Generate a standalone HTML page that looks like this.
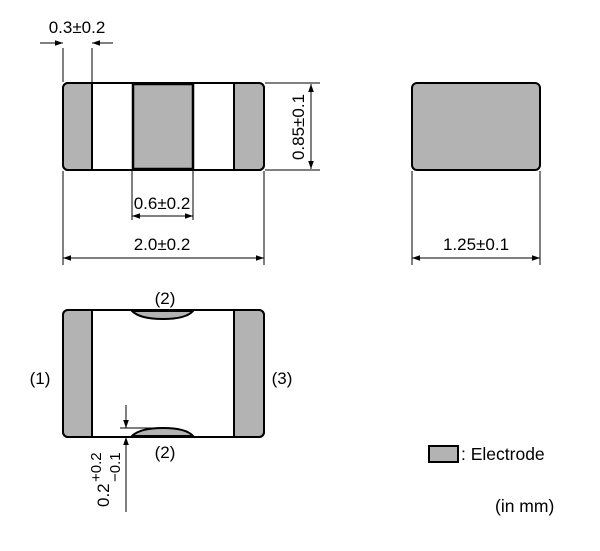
<!DOCTYPE html>
<html><head><style>
html,body{margin:0;padding:0;background:#fff;}
svg text{font-family:"Liberation Sans",Arial,sans-serif;fill:#000;}
</style></head><body>
<svg width="600" height="546" viewBox="0 0 600 546" xmlns="http://www.w3.org/2000/svg">
<defs>
<marker id="a" viewBox="0 0 10 10" refX="10" refY="5" markerWidth="10" markerHeight="8" orient="auto-start-reverse" markerUnits="userSpaceOnUse"><path d="M0,1.5 L10,5 L0,8.5 z" fill="#000"/></marker>
</defs>
<g stroke="#000" fill="none">
<rect x="63" y="83" width="201" height="87" rx="5" fill="#fff" stroke-width="2"/>
<path d="M92,84 H68 Q64,84 64,88 V165 Q64,169 68,169 H92 Z" fill="#b3b3b3" stroke="none"/>
<path d="M234,84 H259 Q263,84 263,88 V165 Q263,169 259,169 H234 Z" fill="#b3b3b3" stroke="none"/>
<rect x="133" y="84" width="60" height="85" fill="#b3b3b3" stroke-width="2.5"/>
<line x1="92" y1="83" x2="92" y2="170" stroke-width="2"/>
<line x1="234" y1="83" x2="234" y2="170" stroke-width="2"/>
<rect x="63" y="83" width="201" height="87" rx="5" stroke-width="2"/>
<line x1="63" y1="48" x2="63" y2="82" stroke-width="1"/>
<line x1="92" y1="48" x2="92" y2="82" stroke-width="1"/>
<line x1="40" y1="43" x2="63" y2="43" stroke-width="1" marker-end="url(#a)"/>
<line x1="113" y1="43" x2="92" y2="43" stroke-width="1" marker-end="url(#a)"/>
<line x1="265" y1="83" x2="320" y2="83" stroke-width="1"/>
<line x1="265" y1="170" x2="320" y2="170" stroke-width="1"/>
<line x1="311" y1="84" x2="311" y2="169" stroke-width="1" marker-start="url(#a)" marker-end="url(#a)"/>
<line x1="132" y1="171" x2="132" y2="220" stroke-width="1"/>
<line x1="193" y1="171" x2="193" y2="220" stroke-width="1"/>
<line x1="132" y1="216" x2="193" y2="216" stroke-width="1" marker-start="url(#a)" marker-end="url(#a)"/>
<line x1="63" y1="171" x2="63" y2="265" stroke-width="1"/>
<line x1="264" y1="171" x2="264" y2="265" stroke-width="1"/>
<line x1="63" y1="258" x2="264" y2="258" stroke-width="1" marker-start="url(#a)" marker-end="url(#a)"/>
<rect x="412" y="83" width="128" height="87" rx="5" fill="#b3b3b3" stroke-width="2"/>
<line x1="412" y1="171" x2="412" y2="265" stroke-width="1"/>
<line x1="540" y1="171" x2="540" y2="265" stroke-width="1"/>
<line x1="412" y1="258" x2="540" y2="258" stroke-width="1" marker-start="url(#a)" marker-end="url(#a)"/>
<rect x="63" y="310" width="201" height="127" rx="5" fill="#fff" stroke-width="2"/>
<path d="M92,311 H68 Q64,311 64,315 V432 Q64,436 68,436 H92 Z" fill="#b3b3b3" stroke="none"/>
<path d="M234,311 H259 Q263,311 263,315 V432 Q263,436 259,436 H234 Z" fill="#b3b3b3" stroke="none"/>
<line x1="92" y1="310" x2="92" y2="437" stroke-width="2"/>
<line x1="234" y1="310" x2="234" y2="437" stroke-width="2"/>
<path d="M132,311 Q140,319 163,319 Q186,319 193,311 Z" fill="#b3b3b3" stroke-width="2"/>
<path d="M132,436 Q140,428 163,428 Q186,428 193,436 Z" fill="#b3b3b3" stroke-width="2"/>
<rect x="63" y="310" width="201" height="127" rx="5" stroke-width="2"/>
<line x1="120" y1="428" x2="160" y2="428" stroke-width="1"/>
<line x1="126" y1="405" x2="126" y2="428" stroke-width="1" marker-end="url(#a)"/>
<line x1="126" y1="512" x2="126" y2="437" stroke-width="1" marker-end="url(#a)"/>
<rect x="429" y="446" width="29" height="16" fill="#b3b3b3" stroke-width="2"/>
</g>
<g font-size="17">
<text x="77" y="33" text-anchor="middle">0.3±0.2</text>
<text x="162" y="209" text-anchor="middle">0.6±0.2</text>
<text x="162" y="250" text-anchor="middle">2.0±0.2</text>
<text x="476" y="250" text-anchor="middle">1.25±0.1</text>
<text transform="translate(304,127) rotate(-90)" text-anchor="middle">0.85±0.1</text>
<text x="165" y="304" text-anchor="middle">(2)</text>
<text x="165" y="458" text-anchor="middle">(2)</text>
<text x="40" y="384" text-anchor="middle">(1)</text>
<text x="282" y="384" text-anchor="middle">(3)</text>
<text transform="translate(109,507) rotate(-90)">0.2</text>
<text transform="translate(101,482) rotate(-90)" font-size="15">+0.2</text>
<text transform="translate(120,482) rotate(-90)" font-size="15">−0.1</text>
<text x="461" y="460" font-size="17.5">: Electrode</text>
<text x="495" y="512" font-size="17.5">(in mm)</text>
</g>
</svg>
</body></html>
